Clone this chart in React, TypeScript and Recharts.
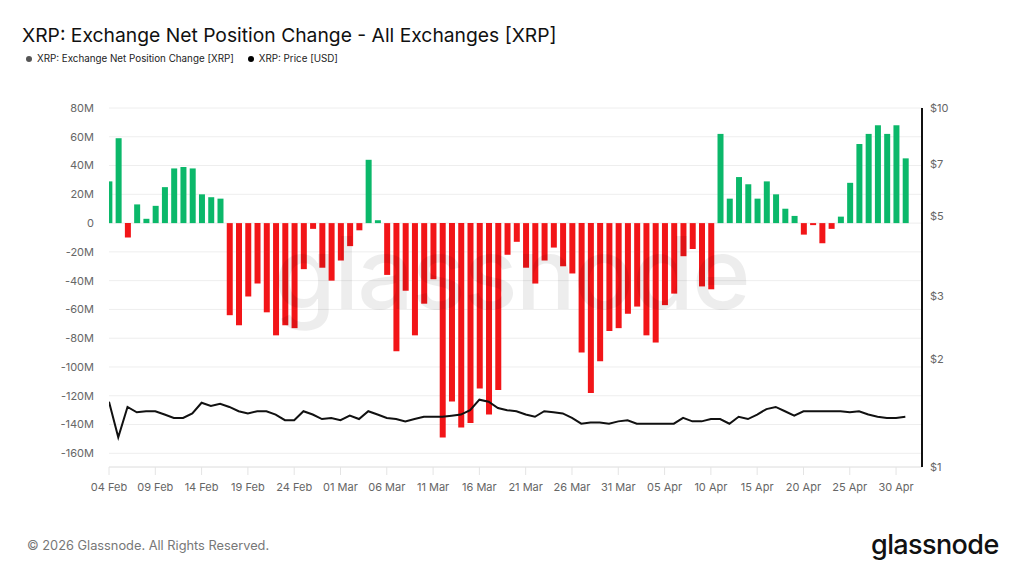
import React from 'react';
import {
  ComposedChart,
  Bar,
  Line,
  Cell,
  XAxis,
  YAxis,
  CartesianGrid,
} from 'recharts';

// Daily net position change on all exchanges, in millions of XRP (04 Feb .. 01 May)
const netChangeM = [
  29, 59, -10, 13, 3, 12, 25, 38, 39, 38,
  20, 18, 17, -64, -71, -51, -42, -62, -78, -71,
  -73, -32, -4, -31, -40, -26, -16, -5, 44, 2,
  -36, -89, -47, -78, -56, -39, -149, -124, -142, -139,
  -115, -133, -116, -22, -13, -31, -42, -26, -17, -30,
  -35, -90, -118, -96, -75, -73, -63, -58, -78, -83,
  -57, -49, -23, -18, -44, -46, 62, 17, 32, 27,
  17, 29, 20, 10, 5, -8, -1.4, -14, -4, 4.5,
  28, 55, 62, 68, 62, 68, 45,
];

// XRP price in USD, same days
const priceUsd = [
  1.52, 1.21, 1.47, 1.42, 1.43, 1.43, 1.4, 1.37, 1.37, 1.41,
  1.51, 1.48, 1.5, 1.47, 1.43, 1.41, 1.43, 1.43, 1.4, 1.35,
  1.35, 1.43, 1.4, 1.36, 1.37, 1.35, 1.39, 1.36, 1.43, 1.4,
  1.37, 1.36, 1.34, 1.36, 1.38, 1.38, 1.38, 1.39, 1.4, 1.44,
  1.54, 1.52, 1.46, 1.44, 1.43, 1.4, 1.38, 1.43, 1.42, 1.41,
  1.37, 1.32, 1.33, 1.33, 1.32, 1.34, 1.35, 1.32, 1.32, 1.32,
  1.32, 1.32, 1.37, 1.34, 1.34, 1.36, 1.36, 1.32, 1.38, 1.36,
  1.4, 1.45, 1.47, 1.43, 1.39, 1.43, 1.43, 1.43, 1.43, 1.43,
  1.42, 1.43, 1.4, 1.38, 1.37, 1.37, 1.38,
];

// one label every 5 days, starting at day 0
const dateTicks = [
  '04 Feb', '09 Feb', '14 Feb', '19 Feb', '24 Feb', '01 Mar', '06 Mar', '11 Mar', '16 Mar',
  '21 Mar', '26 Mar', '31 Mar', '05 Apr', '10 Apr', '15 Apr', '20 Apr', '25 Apr', '30 Apr',
];
const netTicks = [80, 60, 40, 20, 0, -20, -40, -60, -80, -100, -120, -140, -160];
const priceTicks = [1, 2, 3, 5, 7, 10];

const GREEN = '#0bb86a';
const RED = '#f21518';
const FONT = 'Inter, "Noto Sans", sans-serif';

const data = netChangeM.map((net, i) => ({ day: i, net, price: priceUsd[i] }));

export default function App() {
  return (
    <div
      style={{
        position: 'absolute',
        left: 0,
        top: 0,
        width: 1024,
        height: 576,
        background: '#fff',
        fontFamily: FONT,
        overflow: 'hidden',
      }}
    >
      <div style={{ position: 'absolute', left: 22, top: 23, fontSize: 19.3, color: '#111' }}>
        XRP: Exchange Net Position Change - All Exchanges [XRP]
      </div>
      <div
        style={{
          position: 'absolute',
          left: 26,
          top: 53,
          fontSize: 9.8,
          color: '#222',
          display: 'flex',
          alignItems: 'center',
        }}
      >
        <span style={{ width: 6, height: 6, borderRadius: 3, background: '#555', marginRight: 5 }} />
        <span>XRP: Exchange Net Position Change [XRP]</span>
        <span
          style={{ width: 6, height: 6, borderRadius: 3, background: '#000', marginLeft: 14, marginRight: 5 }}
        />
        <span>XRP: Price [USD]</span>
      </div>

      <ComposedChart
        width={1024}
        height={576}
        data={data}
        margin={{ top: 108, right: 12, bottom: 79, left: 49 }}
        style={{ position: 'absolute', left: 0, top: 0 }}
      >
        <CartesianGrid yAxisId="net" vertical={false} stroke="#eeeeee" />
        <XAxis
          dataKey="day"
          type="number"
          domain={[0, 87.8]}
          allowDataOverflow
          ticks={dateTicks.map((_, i) => i * 5)}
          tickFormatter={(v) => dateTicks[Math.round(v / 5)]}
          axisLine={{ stroke: '#e4e4e4' }}
          tickLine={{ stroke: '#e4e4e4' }}
          tickSize={8}
          tickMargin={8}
          height={30}
          tick={{ fontSize: 11, fill: '#666', fontFamily: FONT }}
        />
        <YAxis
          yAxisId="net"
          domain={[-169.5, 80]}
          ticks={netTicks}
          tickFormatter={(v) => (v === 0 ? '0' : `${v}M`)}
          axisLine={false}
          tickLine={false}
          tickSize={0}
          tickMargin={15}
          width={60}
          tick={{ fontSize: 11, fill: '#666', fontFamily: FONT }}
        />
        <YAxis
          yAxisId="price"
          orientation="right"
          scale="log"
          domain={[1, 10]}
          allowDataOverflow
          ticks={priceTicks}
          tickFormatter={(v) => `$${v}`}
          axisLine={{ stroke: '#111', strokeWidth: 2 }}
          tickLine={false}
          tickSize={0}
          tickMargin={8}
          width={90}
          tick={{ fontSize: 11, fill: '#666', fontFamily: FONT }}
        />
        <Bar yAxisId="net" dataKey="net" barSize={6} isAnimationActive={false}>
          {data.map((d) => (
            <Cell key={d.day} fill={d.net >= 0 ? GREEN : RED} />
          ))}
        </Bar>
        <Line
          yAxisId="price"
          dataKey="price"
          type="linear"
          stroke="#111"
          strokeWidth={2}
          dot={false}
          activeDot={false}
          isAnimationActive={false}
        />
      </ComposedChart>

      {/* faint brand mark over the plot */}
      <div
        style={{
          position: 'absolute',
          left: 274,
          top: 212,
          fontSize: 100,
          fontWeight: 500,
          letterSpacing: -2,
          color: 'rgba(0,0,0,0.07)',
          pointerEvents: 'none',
        }}
      >
        glassnode
      </div>

      <div style={{ position: 'absolute', left: 27, top: 538, fontSize: 12.8, color: '#777' }}>
        © 2026 Glassnode. All Rights Reserved.
      </div>
      <div
        style={{
          position: 'absolute',
          left: 871,
          top: 528,
          fontSize: 27,
          fontWeight: 500,
          color: '#111',
          letterSpacing: -0.6,
        }}
      >
        glassnode
      </div>
    </div>
  );
}
